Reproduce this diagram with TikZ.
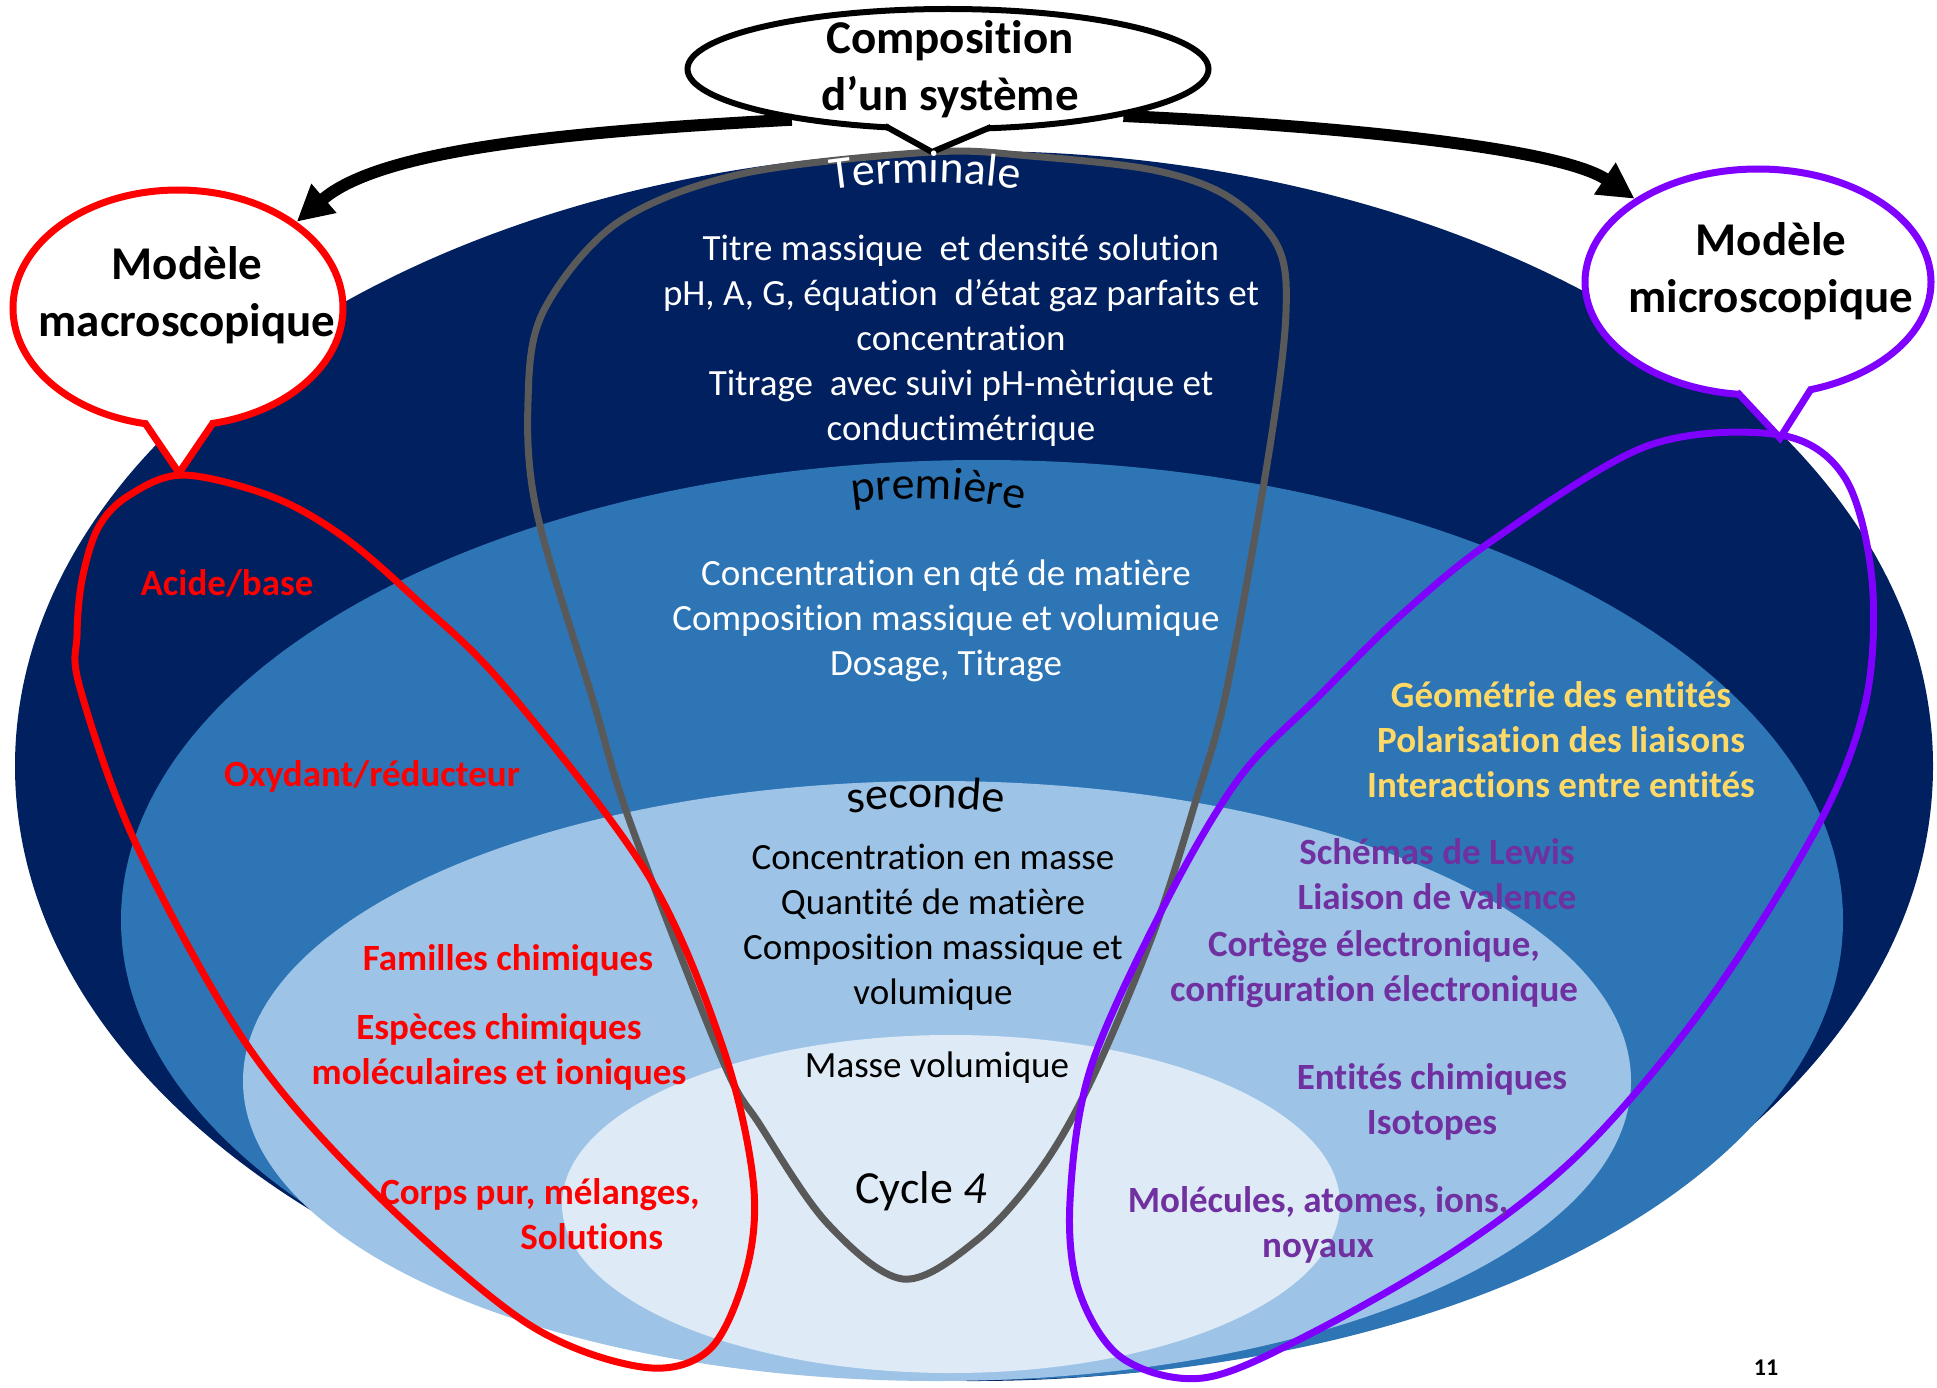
\documentclass[tikz,border=0pt]{standalone}
\usepackage{fontspec}
\setmainfont{Carlito}[Ligatures=NoCommon]
\usetikzlibrary{arrows.meta, decorations.text, shapes.geometric}
\definecolor{navy}{HTML}{002060}
\definecolor{midblue}{HTML}{2E75B6}
\definecolor{lightblue}{HTML}{9DC3E6}
\definecolor{paleblue}{HTML}{DEEBF7}
\definecolor{loopgrey}{HTML}{595959}
\definecolor{loopred}{HTML}{FF0000}
\definecolor{looppurple}{HTML}{7F00FF}
\definecolor{txtpurple}{HTML}{7030A0}
\definecolor{txtyellow}{HTML}{FFD966}
\newcommand\arcfont{\fontsize{46}{52}\selectfont}
\begin{document}
\begin{tikzpicture}[x=1pt, y=-1pt,
  body/.style={font=\fontsize{37}{45}\selectfont, align=center, inner sep=0pt},
  bodyb/.style={font=\bfseries\fontsize{37}{45}\selectfont, align=center, inner sep=0pt},
  titletext/.style={font=\bfseries\fontsize{47}{57}\selectfont, align=center, inner sep=0pt, text=black},
  bubble/.style={ellipse, fill=white, line width=7pt, inner sep=0pt},
  looppath/.style={line width=7pt},
  bigarrow/.style={line width=12pt, -{Triangle[length=36pt, width=36pt]}},
  arctext/.style={decorate, decoration={text along path, text align=center, text={#1}}},
]
\useasboundingbox (0,0) rectangle (1937,1388);
\fill[white] (0,0) rectangle (1937,1388);

% nested levels
\fill[navy] (974,766) ellipse [x radius=959, y radius=615];
\fill[midblue] (982,920) ellipse [x radius=861, y radius=460];
\fill[lightblue] (937,1081) ellipse [x radius=694, y radius=300];
\fill[paleblue] (951,1204) ellipse [x radius=389, y radius=169];

% loops
\draw[loopgrey, looppath] plot[smooth cycle, tension=0.55] coordinates {
 (932,152) (1030,156) (1153,170) (1227,196) (1277,245) (1286,312) (1270,446)
 (1227,688) (1196,800) (1153,934) (1091,1081) (1040,1170) (977,1240) (903,1279)
 (827,1223) (760,1125) (722,1059) (630,822) (593,700) (537,513) (528,402) (543,312)
 (617,223) (741,174)};
\draw[loopred, looppath] plot[smooth cycle, tension=0.55] coordinates {
 (183,475) (273,497) (345,538) (420,603) (506,688) (648,875) (722,1045) (753,1179)
 (747,1268) (710,1349) (642,1367) (525,1322) (370,1188) (247,1045) (136,844)
 (80,688) (77,635) (82,580) (98,528) (128,496)};
\draw[looppurple, looppath] plot[smooth cycle, tension=0.55] coordinates {
 (1780,435) (1845,478) (1872,580) (1866,700) (1820,822) (1709,1000) (1585,1148)
 (1462,1246) (1308,1335) (1203,1378) (1122,1358) (1079,1291) (1070,1201)
 (1091,1067) (1166,902) (1240,777) (1320,695) (1400,616) (1493,540) (1647,446)};

% callouts
\node[bubble, draw=black, line width=6pt, minimum width=521pt, minimum height=120pt] (comp) at (948,69) {};
\fill[white] (889,127) -- (932,152) -- (987,128) -- (987,105) -- (889,105) -- cycle;
\draw[black, line width=6pt, line join=miter] (885,126) -- (932,152) -- (991,127);

\node[bubble, draw=loopred, minimum width=330pt, minimum height=236pt] (macro) at (178,308) {};
\fill[white] (148,424) -- (179,473) -- (210,424) -- (210,400) -- (148,400) -- cycle;
\draw[loopred, line width=7pt, line join=miter] (145,423) -- (179,473) -- (213,423);

\node[bubble, draw=looppurple, minimum width=346pt, minimum height=226pt] (micro) at (1758,282) {};
\fill[white] (1740,393) -- (1780,438) -- (1808,390) -- (1808,370) -- (1740,370) -- cycle;
\draw[looppurple, line width=7pt, line join=miter] (1737,392) -- (1780,438) -- (1811,389);

% arrows
\draw[bigarrow] (comp.198) .. controls (560,132) and (380,150) .. (macro.36);
\draw[bigarrow] (comp.345) .. controls (1340,126) and (1560,148) .. (micro.146);

% callout texts
\node[titletext] (comptext) at (950,69) {Composition\\d’un système};
\node[titletext] (macrotext) at (187,295) {Modèle\\macroscopique};
\node[titletext] (microtext) at (1771,271) {Modèle\\microscopique};

% level titles (arched)
\path[arctext={|\arcfont\color{white}|Terminale}] (765,202) .. controls (872,176) and (978,176) .. (1085,202);
\path[arctext={|\arcfont\color{black}|première}] (787,517) .. controls (887,489) and (987,493) .. (1087,529);
\path[arctext={|\arcfont\color{black}|seconde}] (776,828) .. controls (876,801) and (976,801) .. (1076,828);
\node[font=\arcfont, inner sep=0pt, anchor=base] (cycle) at (921,1203) {Cycle \textit{4}};

% level contents
\node[body, text=white] (term) at (961,341) {Titre massique~ et densité solution\\pH, A, G, équation~ d’état gaz parfaits et\\concentration\\Titrage~ avec suivi pH-mètrique et\\conductimétrique};
\node[body, text=white] (prem) at (946,621) {Concentration en qté de matière\\Composition massique et volumique\\Dosage, Titrage};
\node[body, text=black] (sec) at (933,927) {Concentration en masse\\Quantité de matière\\Composition massique et\\volumique};
\node[body, text=black] (masse) at (937,1068) {Masse volumique};

% macroscopic (red)
\node[bodyb, text=loopred] (acide) at (227,583) {Acide/base};
\node[bodyb, text=loopred] (oxy) at (372,776) {Oxydant/réducteur};
\node[bodyb, text=loopred] (familles) at (508,960) {Familles chimiques};
\node[bodyb, text=loopred] (especes) at (499,1052) {Espèces chimiques\\moléculaires et ioniques};
\node[bodyb, text=loopred, align=left] (corps) at (540,1214) {Corps pur, mélanges,\\\hspace*{140pt}Solutions};

% microscopic
\node[bodyb, text=txtyellow] (geom) at (1561,740) {Géométrie des entités\\Polarisation des liaisons\\Interactions entre entités};
\node[bodyb, text=txtpurple] (lewis) at (1437,874) {Schémas de Lewis\\Liaison de valence};
\node[bodyb, text=txtpurple] (cortege) at (1374,969) {Cortège électronique,\\configuration électronique};
\node[bodyb, text=txtpurple] (entites) at (1432,1102) {Entités chimiques\\Isotopes};
\node[bodyb, text=txtpurple] (molec) at (1318,1225) {Molécules, atomes, ions,\\noyaux};

\node[font=\bfseries\fontsize{24}{28}\selectfont, inner sep=0pt] (pagenum) at (1766,1368) {11};
\end{tikzpicture}
\end{document}
